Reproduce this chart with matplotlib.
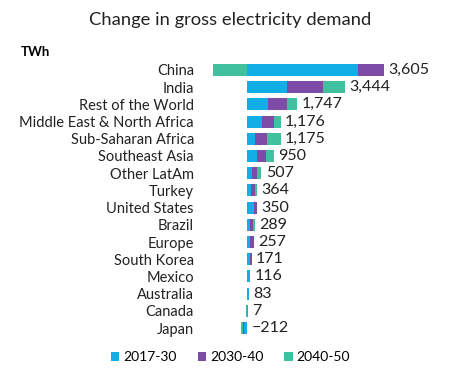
import numpy as np
import matplotlib.pyplot as plt

# Regions and contributions (TWh)
regions = ["China", "India", "Rest of the World", "Middle East & North Africa",
           "Sub-Saharan Africa", "Southeast Asia", "Other LatAm", "Turkey",
           "United States", "Brazil", "Europe", "South Korea", "Mexico",
           "Australia", "Canada", "Japan"]
p2017_30 = [3885, 1400, 735, 525, 280, 350, 175, 140, 240, 120, 110, 120, 90, 60, 25, -100]
p2030_40 = [910, 1260, 665, 420, 420, 315, 175, 150, 110, 80, 147, 51, 26, 23, 5, -30]
p2040_50 = [-1190, 784, 347, 231, 475, 285, 157, 74, 0, 89, 0, 0, 0, 0, -23, -82]
totals = [3605, 3444, 1747, 1176, 1175, 950, 507, 364, 350, 289, 257, 171, 116, 83, 7, -212]

colors = ["#12aee6", "#7c4ca7", "#41c0a0"]
series = [p2017_30, p2030_40, p2040_50]
names = ["2017-30", "2030-40", "2040-50"]

plt.rcParams['font.family'] = ['Lato', 'DejaVu Sans']
fig = plt.figure(figsize=(4.61, 3.79), dpi=100)
ax = fig.add_axes([0.4447, 0.1082, 0.5206, 0.7335])

y = np.arange(len(regions))
pos_left = np.zeros(len(regions))
neg_left = np.zeros(len(regions))
for vals, c, n in zip(series, colors, names):
    vals = np.array(vals, dtype=float)
    left = np.where(vals >= 0, pos_left, neg_left)
    ax.barh(y, vals, left=left, height=0.7, color=c, label=n)
    pos_left += np.where(vals >= 0, vals, 0)
    neg_left += np.where(vals < 0, vals, 0)

for i, t in enumerate(totals):
    ax.text(pos_left[i] + 150, i, f"{t:,}".replace("-", "\u2212"),
            va="center", ha="left", fontsize=11.5, color="#222222")

ax.set_yticks(y)
ax.set_yticklabels(regions, fontsize=10.5, color="#222222")
ax.tick_params(axis="y", length=0, pad=8)
ax.set_xticks([])
ax.set_xlim(-1470, 6930)
ax.set_ylim(15.58, -0.58)
for s in ax.spines.values():
    s.set_visible(False)

fig.text(0.5, 0.947, "Change in gross electricity demand", ha="center", va="center",
         fontsize=13.2, color="#222222")
fig.text(0.045, 0.863, "TWh", ha="left", va="center", fontsize=9.5, fontweight="bold")

fig.legend(loc="center", bbox_to_anchor=(0.5, 0.058), ncol=3, frameon=False,
           fontsize=10, handlelength=0.6, handleheight=0.6, handletextpad=0.3,
           columnspacing=1.5)

fig.savefig("out.png", dpi=100)
